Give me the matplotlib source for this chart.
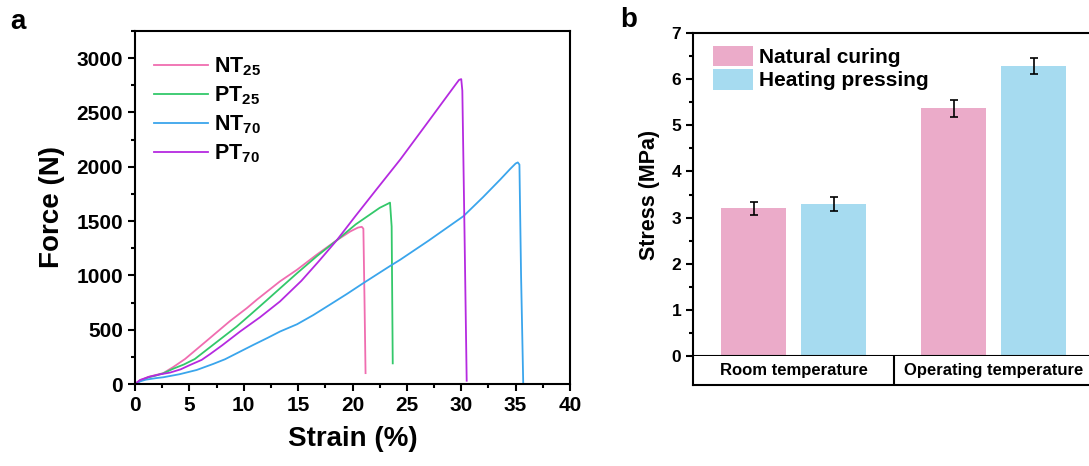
import matplotlib
matplotlib.use("Agg")
import matplotlib.pyplot as plt
from matplotlib.ticker import MultipleLocator
import numpy as np

plt.rcParams['font.family'] = ['Liberation Sans', 'DejaVu Sans']
plt.rcParams['font.weight'] = 'bold'
plt.rcParams['mathtext.fontset'] = 'custom'
plt.rcParams['mathtext.rm'] = 'Liberation Sans:bold'
plt.rcParams['mathtext.bf'] = 'Liberation Sans:bold'

# ---------------- data: panel a ----------------
nt25_x = [0, 0.5, 1.2, 2.0, 2.6, 3.5, 4.6, 6.5, 8.74, 10.3, 11.2, 13.33, 14.9, 16.7, 18.55, 19.8, 20.5, 20.85, 21.0, 21.1, 21.2]
nt25_y = [0, 35, 65, 85, 100, 155, 230, 390, 580, 700, 776, 945, 1052, 1190, 1323, 1405, 1440, 1447, 1430, 800, 100]

pt25_x = [0, 0.5, 1.2, 2.0, 2.6, 3.5, 4.5, 5.5, 7.3, 9.35, 10.57, 12.1, 13.33, 14.9, 16.7, 18.55, 20.3, 22.5, 23.3, 23.45, 23.6, 23.7]
pt25_y = [0, 30, 60, 80, 98, 140, 180, 230, 370, 529, 635, 770, 880, 1020, 1175, 1323, 1470, 1622, 1662, 1670, 1450, 190]

nt70_x = [0, 0.5, 1.0, 2.0, 2.6, 4.1, 5.67, 7.2, 8.28, 9.5, 10.88, 12.2, 13.33, 14.9, 16.4, 17.9, 19.5, 21.0, 23.4, 24.4, 27.0, 30.2, 32.0, 33.6, 34.5, 35.0, 35.2, 35.35, 35.5, 35.7]
nt70_y = [0, 25, 40, 55, 62, 90, 129, 185, 228, 290, 360, 425, 483, 550, 635, 729, 830, 929, 1083, 1145, 1320, 1545, 1720, 1884, 1980, 2030, 2040, 2020, 1000, 0]

pt70_x = [0, 0.46, 1.38, 2.3, 3.22, 4.2, 5.06, 6.13, 6.9, 8.0, 9.66, 11.5, 13.33, 15.3, 16.9, 18.55, 20.3, 22.2, 24.4, 27.0, 29.5, 29.8, 30.0, 30.1, 30.3, 30.5]
pt70_y = [0, 37, 68, 89, 105, 135, 175, 222, 275, 355, 483, 615, 760, 950, 1130, 1323, 1550, 1791, 2068, 2420, 2760, 2800, 2807, 2700, 1400, 30]

curve_labels = [r"NT$_{\mathregular{25}}$", r"PT$_{\mathregular{25}}$", r"NT$_{\mathregular{70}}$", r"PT$_{\mathregular{70}}$"]
curve_colors = ['#f06db0', '#33c86a', '#3aa5ec', '#b52ae0']

# ---------------- data: panel b ----------------
groups = ['Room temperature', 'Operating temperature']
series = ['Natural curing', 'Heating pressing']
natural = [3.20, 5.37]
natural_err = [0.14, 0.18]
heating = [3.30, 6.28]
heating_err = [0.15, 0.17]
bar_colors = ['#ebabc9', '#a6dbf0']

fig = plt.figure(figsize=(10.89, 4.66), dpi=100)
W, H = 1089, 466

def rect(l, r, t, b):
    return [l / W, (H - b) / H, (r - l) / W, (b - t) / H]

# ---------- panel a ----------
ax = fig.add_axes(rect(135, 570, 31, 384))
for xs, ys, lab, c in zip([nt25_x, pt25_x, nt70_x, pt70_x], [nt25_y, pt25_y, nt70_y, pt70_y], curve_labels, curve_colors):
    ax.plot(xs, ys, color=c, lw=1.3, label=lab)
ax.set_xlim(0, 40)
ax.set_ylim(0, 3250)
ax.xaxis.set_major_locator(MultipleLocator(5))
ax.xaxis.set_minor_locator(MultipleLocator(2.5))
ax.yaxis.set_major_locator(MultipleLocator(500))
ax.yaxis.set_minor_locator(MultipleLocator(250))
ax.tick_params(which='both', direction='out', width=1.5, labelsize=15)
ax.tick_params(which='major', length=5)
ax.tick_params(which='minor', length=3)
for s in ax.spines.values():
    s.set_linewidth(1.5)
for t in ax.get_xticklabels() + ax.get_yticklabels():
    t.set_fontweight('bold')
ax.set_xlabel('Strain (%)', fontsize=20, fontweight='bold', labelpad=8)
ax.set_ylabel('Force (N)', fontsize=20, fontweight='bold', labelpad=8)
ax.legend(loc='upper left', bbox_to_anchor=(0.0, 0.985), frameon=False,
          prop={'size': 15.5, 'weight': 'bold'}, handlelength=2.5, labelspacing=0.3,
          handletextpad=0.25)
fig.text(10 / W, 1 - 22 / H, 'a', fontsize=20, fontweight='bold', va='center')

# ---------- panel b ----------
bx = fig.add_axes(rect(693, 1092, 33, 356))
pos = np.arange(len(groups))
off = 0.2
bw = 0.325
ekw = dict(ecolor='black', elinewidth=1.2, capsize=3, capthick=1.2)
bx.bar(pos - off, natural, width=bw, color=bar_colors[0], yerr=natural_err, error_kw=ekw, label=series[0])
bx.bar(pos + off, heating, width=bw, color=bar_colors[1], yerr=heating_err, error_kw=ekw, label=series[1])
bx.set_xlim(-0.5025, 1.49)
bx.set_ylim(0, 7)
bx.set_xticks([])
bx.yaxis.set_major_locator(MultipleLocator(1))
bx.yaxis.set_minor_locator(MultipleLocator(0.5))
bx.tick_params(which='both', direction='out', width=1.5, labelsize=12.5)
bx.tick_params(which='major', length=5)
bx.tick_params(which='minor', length=3)
for s in bx.spines.values():
    s.set_linewidth(1.5)
for t in bx.get_yticklabels():
    t.set_fontweight('bold')
bx.set_ylabel('Stress (MPa)', fontsize=15.5, fontweight='bold', labelpad=8)
bx.legend(loc='upper left', bbox_to_anchor=(0.02, 1.0), frameon=False,
          prop={'size': 15, 'weight': 'bold'}, handlelength=1.9, handleheight=1.15,
          labelspacing=0.1, handletextpad=0.3, borderaxespad=0.2)
fig.text(620 / W, 1 - 20 / H, 'b', fontsize=20, fontweight='bold', va='center')

# group label box
gx = fig.add_axes(rect(693, 1092, 356, 385))
gx.set_xlim(bx.get_xlim())
gx.set_ylim(0, 1)
gx.set_xticks([])
gx.set_yticks([])
gx.spines['top'].set_visible(False)
gx.spines['right'].set_visible(False)
for s in ['left', 'bottom']:
    gx.spines[s].set_linewidth(1.5)
gx.axvline(0.5025, color='black', lw=1.5)
for p, g in zip(pos, groups):
    gx.text(p, 0.5, g, ha='center', va='center', fontsize=12, fontweight='bold')

fig.savefig('out.png', dpi=100)
